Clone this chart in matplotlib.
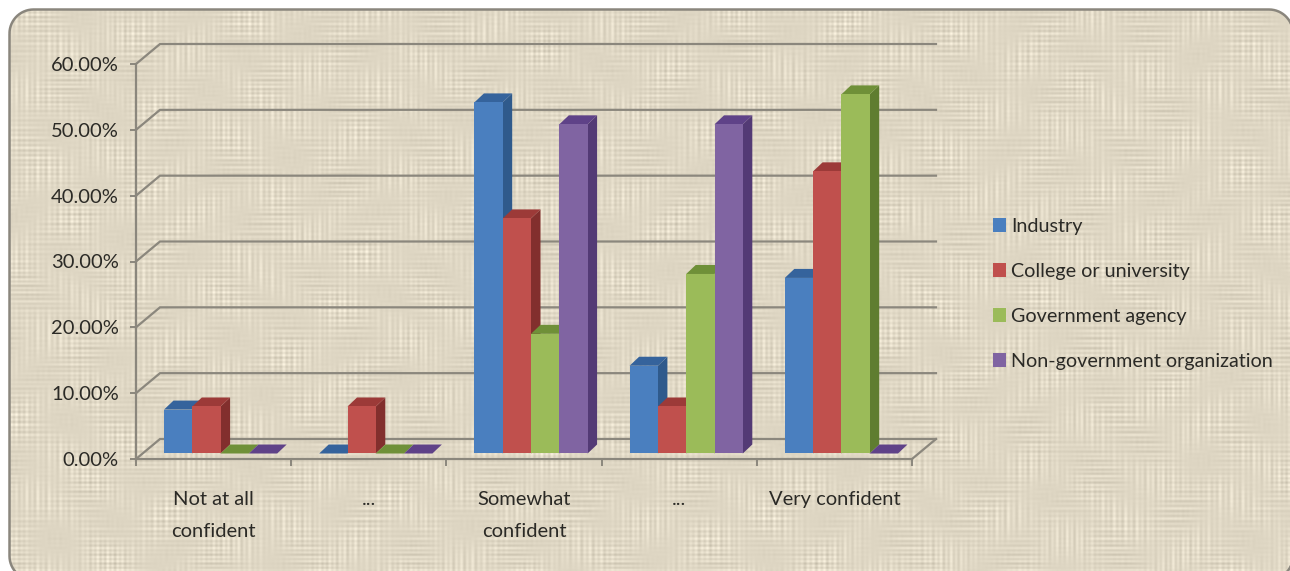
import matplotlib
matplotlib.use('Agg')
import matplotlib.pyplot as plt
from matplotlib.patches import Polygon, Patch
import numpy as np

plt.rcParams['font.family'] = ['Lato', 'DejaVu Sans']

# values (percent)
categories = ['Not at all\nconfident', '...', 'Somewhat\nconfident', '...', 'Very confident']
industry = [6.67, 0, 53.33, 13.33, 26.67]
college = [7.14, 7.14, 35.71, 7.14, 42.86]
government = [0, 0, 18.18, 27.27, 54.55]
ngo = [0, 0, 50.0, 50.0, 0]
series_names = ['Industry', 'College or university', 'Government agency', 'Non-government organization']
y_ticks = [0, 10, 20, 30, 40, 50, 60]

# front, top, side colours
colors = [('#4a7fbf', '#35639c', '#2f5a8c'),
          ('#c0504d', '#9c3a38', '#822f2d'),
          ('#9bbb59', '#6f9038', '#5f7d30'),
          ('#8064a2', '#5f4288', '#533a75')]
series = [industry, college, government, ngo]

W, H = 1290, 571
fig = plt.figure(figsize=(W / 100, H / 100), dpi=100, facecolor='white')

# burlap background: uneven threads whose strength changes in patches
bg = fig.add_axes([0, 0, 1, 1], zorder=0)
bg.axis('off')
xx, yy = np.meshgrid(np.arange(W), np.arange(H))
patch_v = np.sin(xx / 19.0 + 1.3 * np.sin(yy / 31.0)) * np.sin(yy / 13.0 + 1.1 * np.sin(xx / 27.0))
patch_h = np.sin(xx / 16.0 - 1.2 * np.sin(yy / 23.0)) * np.sin(yy / 21.0 + 0.9 * np.sin(xx / 33.0))
threads_v = np.sin(2 * np.pi * xx / 5.3 + 1.6 * np.sin(xx / 17.0)) + 0.5 * np.sin(2 * np.pi * xx / 11.7)
threads_h = np.sin(2 * np.pi * yy / 4.7 + 1.6 * np.sin(yy / 15.0)) + 0.5 * np.sin(2 * np.pi * yy / 10.3)
shade = 224 + 6.0 * threads_v * (0.7 + patch_v) + 6.0 * threads_h * (0.7 + patch_h) + 3.0 * patch_v
tex = np.dstack([shade, shade - 8, shade - 27]).clip(0, 255) / 255
im = bg.imshow(tex, extent=(0, W, H, 0), aspect='auto', interpolation='bilinear')

# rounded outline, sampled so it can run past the canvas edge
left, right, top_y, bottom_y, r = 9.5, 1293, 9.5, 580, 24
arc = np.linspace(0, np.pi / 2, 16)
outline = np.vstack([
    np.c_[left + r - r * np.cos(arc), top_y + r - r * np.sin(arc)],
    np.c_[right - r + r * np.sin(arc), top_y + r - r * np.cos(arc)],
    np.c_[right - r + r * np.cos(arc), bottom_y - r + r * np.sin(arc)],
    np.c_[left + r - r * np.sin(arc), bottom_y - r + r * np.cos(arc)],
])
frame = Polygon(outline, closed=True, fc='none', ec='#8a867d', lw=1.8)
bg.add_patch(frame)
im.set_clip_path(frame)
bg.set_xlim(0, W)
bg.set_ylim(H, 0)

# front plane of the 3D box
ax = fig.add_axes([136 / W, 1 - 459 / H, 776 / W, 395 / H], zorder=1)
ax.patch.set_alpha(0)
ax.set_xlim(0, 5)
ax.set_ylim(0, 60)

axis_col = '#8b877d'
text_col = '#2b2a26'

# depth of the box and of the bars, in axis units
depth_x, depth_y = 24 / 155.2, 20 / 6.583
bar_dx, bar_dy = 9.5 / 155.2, 9 / 6.583
bar_w = 28.3 / 155.2
bar_start = 28 / 155.2
bar_base = 5.5 / 6.583

for v in y_ticks:
    ax.plot([0, depth_x, 5 + depth_x], [v, v + depth_y, v + depth_y], color=axis_col, lw=1.6,
            clip_on=False, zorder=1, solid_joinstyle='miter')
ax.plot([5, 5 + depth_x], [0, depth_y], color=axis_col, lw=1.6, clip_on=False, zorder=1)

for s, vals in enumerate(series):
    front, top, side = colors[s]
    for c, v in enumerate(vals):
        x0 = c + bar_start + s * bar_w
        x1 = x0 + bar_w
        y0 = bar_base
        y1 = y0 + v
        z = 3 + c + s * 0.1
        ax.add_patch(Polygon([(x1, y0), (x1 + bar_dx, y0 + bar_dy), (x1 + bar_dx, y1 + bar_dy), (x1, y1)],
                             fc=side, ec='none', clip_on=False, zorder=z))
        ax.add_patch(Polygon([(x0, y1), (x1, y1), (x1 + bar_dx, y1 + bar_dy), (x0 + bar_dx, y1 + bar_dy)],
                             fc=top, ec='none', clip_on=False, zorder=z))
        if v > 0:
            ax.bar(x0, v, width=bar_w, bottom=y0, align='edge', color=front, clip_on=False, zorder=z)

for name in ['top', 'right']:
    ax.spines[name].set_visible(False)
for name in ['left', 'bottom']:
    ax.spines[name].set_color(axis_col)
    ax.spines[name].set_linewidth(1.6)

ax.set_yticks(y_ticks)
ax.set_yticklabels([f'{v:.2f}%' for v in y_ticks], fontsize=14.5, color=text_col)
ax.tick_params(axis='y', length=4.5, width=1.4, color=axis_col, pad=8)

ax.set_xticks(range(6))
ax.set_xticklabels([])
ax.tick_params(axis='x', which='major', length=5, width=1.4, color=axis_col, direction='out')
ax.set_xticks(np.arange(5) + 0.5, minor=True)
ax.set_xticklabels(categories, minor=True, fontsize=14.5, color=text_col, linespacing=2.05)
ax.tick_params(axis='x', which='minor', length=0, pad=23)

handles = [Patch(fc=c[0], ec='none') for c in colors]
ax.legend(handles, series_names, loc='center left', bbox_to_anchor=(1.081, 0.418), frameon=False,
          fontsize=14.2, labelcolor=text_col, handlelength=0.66, handleheight=0.66,
          handletextpad=0.27, labelspacing=1.42)

fig.savefig('out.png', dpi=100, facecolor='white')
